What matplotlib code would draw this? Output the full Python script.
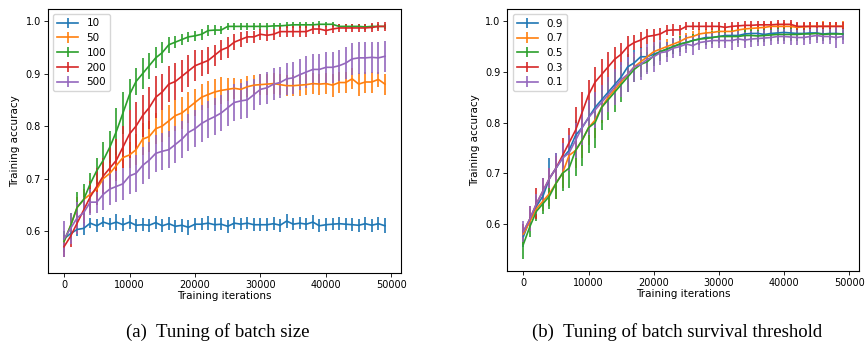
"""
Curvas de precisión de entrenamiento con barras de error:
  (a) ajuste del tamaño de lote
  (b) ajuste del umbral de supervivencia del lote
"""

import matplotlib
matplotlib.use("Agg")
import matplotlib.pyplot as plt


# ── Datos ────────────────────────────────────────────────────

iteraciones = list(range(0, 50000, 1000))

# (a) tamaño de lote
etiquetas_a = ["10", "50", "100", "200", "500"]

acc_10 = [0.585, 0.595, 0.603, 0.605, 0.615, 0.610, 0.617, 0.613, 0.617, 0.612,
          0.617, 0.611, 0.612, 0.611, 0.616, 0.610, 0.614, 0.609, 0.611, 0.607,
          0.613, 0.613, 0.615, 0.612, 0.613, 0.609, 0.615, 0.613, 0.615, 0.612,
          0.612, 0.612, 0.614, 0.611, 0.619, 0.613, 0.615, 0.613, 0.617, 0.610,
          0.612, 0.613, 0.614, 0.613, 0.612, 0.611, 0.614, 0.611, 0.614, 0.610]
err_10 = [0.008, 0.010, 0.013, 0.012, 0.010, 0.012, 0.010, 0.012, 0.015, 0.012,
          0.013, 0.012, 0.012, 0.012, 0.012, 0.012, 0.012, 0.012, 0.012, 0.014,
          0.012, 0.012, 0.014, 0.012, 0.012, 0.012, 0.012, 0.012, 0.012, 0.012,
          0.012, 0.012, 0.012, 0.012, 0.014, 0.012, 0.012, 0.012, 0.014, 0.012,
          0.012, 0.012, 0.012, 0.012, 0.012, 0.012, 0.012, 0.012, 0.012, 0.014]

acc_50 = [0.580, 0.610, 0.645, 0.660, 0.670, 0.680, 0.700, 0.710, 0.725, 0.740,
          0.745, 0.755, 0.775, 0.780, 0.795, 0.800, 0.810, 0.820, 0.825, 0.835,
          0.845, 0.855, 0.860, 0.865, 0.868, 0.870, 0.872, 0.870, 0.875, 0.878,
          0.879, 0.880, 0.881, 0.879, 0.877, 0.877, 0.878, 0.879, 0.881, 0.880,
          0.881, 0.878, 0.883, 0.883, 0.890, 0.880, 0.884, 0.884, 0.889, 0.880]
err_50 = [0.010, 0.015, 0.020, 0.020, 0.020, 0.020, 0.025, 0.025, 0.025, 0.020,
          0.025, 0.030, 0.030, 0.030, 0.030, 0.030, 0.030, 0.030, 0.030, 0.030,
          0.025, 0.025, 0.025, 0.025, 0.025, 0.022, 0.020, 0.020, 0.020, 0.020,
          0.020, 0.020, 0.020, 0.020, 0.020, 0.020, 0.020, 0.020, 0.020, 0.020,
          0.020, 0.022, 0.020, 0.020, 0.020, 0.022, 0.020, 0.020, 0.015, 0.020]

acc_100 = [0.580, 0.610, 0.645, 0.660, 0.690, 0.715, 0.735, 0.760, 0.790, 0.825,
           0.860, 0.885, 0.900, 0.915, 0.930, 0.940, 0.955, 0.960, 0.965, 0.970,
           0.972, 0.975, 0.982, 0.983, 0.983, 0.990, 0.990, 0.990, 0.990, 0.990,
           0.990, 0.990, 0.991, 0.991, 0.992, 0.993, 0.993, 0.993, 0.993, 0.994,
           0.994, 0.994, 0.990, 0.990, 0.990, 0.990, 0.989, 0.990, 0.990, 0.990]
err_100 = [0.020, 0.025, 0.030, 0.030, 0.020, 0.025, 0.035, 0.030, 0.045, 0.040,
           0.030, 0.025, 0.030, 0.025, 0.020, 0.020, 0.015, 0.012, 0.010, 0.010,
           0.010, 0.010, 0.010, 0.010, 0.008, 0.006, 0.006, 0.006, 0.006, 0.006,
           0.006, 0.006, 0.006, 0.006, 0.006, 0.006, 0.006, 0.006, 0.006, 0.006,
           0.005, 0.005, 0.005, 0.005, 0.005, 0.005, 0.005, 0.005, 0.005, 0.005]

acc_200 = [0.570, 0.590, 0.615, 0.640, 0.665, 0.685, 0.705, 0.720, 0.735, 0.760,
           0.785, 0.800, 0.820, 0.835, 0.855, 0.865, 0.880, 0.885, 0.895, 0.905,
           0.915, 0.920, 0.925, 0.935, 0.945, 0.950, 0.960, 0.965, 0.970, 0.970,
           0.975, 0.973, 0.975, 0.980, 0.980, 0.980, 0.980, 0.980, 0.985, 0.985,
           0.982, 0.985, 0.987, 0.987, 0.987, 0.987, 0.987, 0.988, 0.990, 0.990]
err_200 = [0.020, 0.020, 0.020, 0.025, 0.030, 0.035, 0.035, 0.040, 0.040, 0.040,
           0.045, 0.045, 0.040, 0.040, 0.040, 0.035, 0.035, 0.035, 0.030, 0.030,
           0.030, 0.025, 0.025, 0.020, 0.020, 0.020, 0.015, 0.015, 0.012, 0.012,
           0.010, 0.010, 0.010, 0.010, 0.010, 0.010, 0.010, 0.010, 0.010, 0.010,
           0.008, 0.008, 0.008, 0.008, 0.008, 0.008, 0.008, 0.008, 0.008, 0.008]

acc_500 = [0.585, 0.605, 0.625, 0.635, 0.655, 0.655, 0.670, 0.680, 0.685, 0.690,
           0.705, 0.710, 0.725, 0.735, 0.748, 0.752, 0.755, 0.765, 0.775, 0.788,
           0.795, 0.805, 0.812, 0.818, 0.825, 0.835, 0.845, 0.848, 0.850, 0.860,
           0.870, 0.873, 0.880, 0.883, 0.890, 0.892, 0.898, 0.903, 0.908, 0.908,
           0.912, 0.912, 0.915, 0.920, 0.928, 0.930, 0.930, 0.931, 0.930, 0.933]
err_500 = [0.035, 0.030, 0.030, 0.030, 0.025, 0.020, 0.030, 0.030, 0.030, 0.030,
           0.035, 0.035, 0.035, 0.035, 0.035, 0.035, 0.035, 0.035, 0.035, 0.035,
           0.035, 0.035, 0.035, 0.035, 0.035, 0.035, 0.035, 0.035, 0.035, 0.030,
           0.030, 0.030, 0.030, 0.030, 0.030, 0.030, 0.030, 0.030, 0.030, 0.030,
           0.030, 0.030, 0.030, 0.030, 0.030, 0.030, 0.030, 0.030, 0.030, 0.030]

# (b) umbral de supervivencia
etiquetas_b = ["0.9", "0.7", "0.5", "0.3", "0.1"]

acc_09 = [0.575, 0.610, 0.635, 0.655, 0.690, 0.710, 0.730, 0.745, 0.775, 0.790,
          0.810, 0.830, 0.845, 0.860, 0.875, 0.890, 0.910, 0.918, 0.930, 0.930,
          0.935, 0.940, 0.945, 0.950, 0.955, 0.958, 0.962, 0.965, 0.968, 0.968,
          0.970, 0.972, 0.972, 0.972, 0.975, 0.976, 0.976, 0.974, 0.976, 0.977,
          0.978, 0.977, 0.976, 0.976, 0.977, 0.977, 0.975, 0.976, 0.976, 0.975]
err_09 = [0.020, 0.020, 0.020, 0.020, 0.040, 0.030, 0.030, 0.030, 0.030, 0.030,
          0.030, 0.030, 0.030, 0.030, 0.030, 0.030, 0.025, 0.025, 0.020, 0.020,
          0.020, 0.015, 0.015, 0.015, 0.012, 0.012, 0.010, 0.010, 0.010, 0.010,
          0.010, 0.010, 0.010, 0.010, 0.010, 0.010, 0.010, 0.010, 0.010, 0.010,
          0.010, 0.010, 0.010, 0.010, 0.010, 0.010, 0.010, 0.010, 0.010, 0.010]

acc_07 = [0.580, 0.605, 0.630, 0.645, 0.660, 0.680, 0.700, 0.735, 0.745, 0.765,
          0.790, 0.805, 0.830, 0.850, 0.865, 0.880, 0.895, 0.910, 0.920, 0.930,
          0.940, 0.945, 0.950, 0.955, 0.960, 0.967, 0.970, 0.975, 0.977, 0.978,
          0.980, 0.980, 0.980, 0.983, 0.985, 0.986, 0.987, 0.988, 0.990, 0.990,
          0.990, 0.990, 0.988, 0.989, 0.990, 0.990, 0.990, 0.990, 0.990, 0.990]
err_07 = [0.020, 0.020, 0.020, 0.020, 0.025, 0.030, 0.030, 0.030, 0.035, 0.035,
          0.035, 0.035, 0.030, 0.030, 0.030, 0.030, 0.025, 0.025, 0.025, 0.020,
          0.020, 0.015, 0.015, 0.012, 0.012, 0.010, 0.010, 0.010, 0.008, 0.008,
          0.008, 0.008, 0.008, 0.008, 0.008, 0.008, 0.008, 0.008, 0.008, 0.008,
          0.008, 0.008, 0.008, 0.008, 0.008, 0.008, 0.010, 0.008, 0.008, 0.010]

acc_05 = [0.560, 0.595, 0.625, 0.640, 0.655, 0.680, 0.700, 0.710, 0.745, 0.765,
          0.790, 0.800, 0.830, 0.845, 0.860, 0.875, 0.890, 0.905, 0.915, 0.920,
          0.932, 0.940, 0.945, 0.950, 0.955, 0.958, 0.962, 0.965, 0.966, 0.968,
          0.970, 0.970, 0.970, 0.970, 0.972, 0.972, 0.971, 0.972, 0.973, 0.974,
          0.974, 0.974, 0.974, 0.975, 0.975, 0.976, 0.974, 0.975, 0.975, 0.975]
err_05 = [0.030, 0.020, 0.020, 0.020, 0.025, 0.030, 0.035, 0.040, 0.050, 0.050,
          0.050, 0.050, 0.045, 0.040, 0.040, 0.035, 0.030, 0.025, 0.025, 0.020,
          0.020, 0.018, 0.015, 0.015, 0.015, 0.012, 0.012, 0.012, 0.012, 0.012,
          0.012, 0.012, 0.012, 0.012, 0.012, 0.012, 0.012, 0.012, 0.012, 0.012,
          0.012, 0.012, 0.012, 0.012, 0.012, 0.012, 0.012, 0.012, 0.012, 0.012]

acc_03 = [0.585, 0.610, 0.640, 0.665, 0.690, 0.710, 0.735, 0.760, 0.785, 0.820,
          0.855, 0.880, 0.895, 0.910, 0.925, 0.935, 0.950, 0.958, 0.963, 0.970,
          0.972, 0.975, 0.982, 0.983, 0.983, 0.990, 0.990, 0.990, 0.990, 0.990,
          0.990, 0.988, 0.990, 0.991, 0.992, 0.992, 0.993, 0.993, 0.993, 0.994,
          0.994, 0.994, 0.990, 0.990, 0.990, 0.990, 0.990, 0.990, 0.990, 0.990]
err_03 = [0.015, 0.025, 0.030, 0.025, 0.020, 0.025, 0.035, 0.030, 0.045, 0.040,
          0.030, 0.030, 0.030, 0.030, 0.025, 0.022, 0.020, 0.015, 0.015, 0.015,
          0.012, 0.012, 0.010, 0.012, 0.010, 0.008, 0.008, 0.008, 0.008, 0.008,
          0.008, 0.008, 0.008, 0.008, 0.008, 0.008, 0.008, 0.008, 0.008, 0.008,
          0.008, 0.008, 0.008, 0.008, 0.008, 0.008, 0.008, 0.008, 0.008, 0.008]

acc_01 = [0.585, 0.610, 0.640, 0.665, 0.690, 0.710, 0.730, 0.740, 0.765, 0.790,
          0.810, 0.825, 0.840, 0.855, 0.870, 0.885, 0.895, 0.910, 0.915, 0.925,
          0.930, 0.938, 0.940, 0.947, 0.950, 0.955, 0.952, 0.958, 0.960, 0.962,
          0.962, 0.962, 0.962, 0.965, 0.963, 0.965, 0.966, 0.967, 0.968, 0.970,
          0.970, 0.969, 0.968, 0.968, 0.970, 0.972, 0.970, 0.970, 0.968, 0.970]
err_01 = [0.020, 0.025, 0.020, 0.025, 0.020, 0.030, 0.030, 0.035, 0.035, 0.035,
          0.035, 0.035, 0.035, 0.035, 0.035, 0.035, 0.035, 0.030, 0.030, 0.030,
          0.030, 0.025, 0.020, 0.020, 0.018, 0.018, 0.018, 0.015, 0.015, 0.015,
          0.015, 0.015, 0.018, 0.015, 0.015, 0.015, 0.015, 0.015, 0.015, 0.015,
          0.015, 0.015, 0.015, 0.015, 0.015, 0.015, 0.015, 0.015, 0.020, 0.015]

series_a = [(acc_10, err_10), (acc_50, err_50), (acc_100, err_100),
            (acc_200, err_200), (acc_500, err_500)]
series_b = [(acc_09, err_09), (acc_07, err_07), (acc_05, err_05),
            (acc_03, err_03), (acc_01, err_01)]


# ── Gráfico ──────────────────────────────────────────────────

def dibujar_panel(ax, series, etiquetas, ylim):
    for (acc, err), etiqueta in zip(series, etiquetas):
        ax.errorbar(iteraciones, acc, yerr=err, label=etiqueta, linewidth=1.2,
                    elinewidth=1.2)
    ax.set_ylim(*ylim)
    ax.set_xticks([0, 10000, 20000, 30000, 40000, 50000])
    ax.set_yticks([0.6, 0.7, 0.8, 0.9, 1.0])
    ax.set_xlabel("Training iterations", fontsize=7.5, labelpad=1)
    ax.set_ylabel("Training accuracy", fontsize=7.5, labelpad=4)
    ax.tick_params(labelsize=7, length=3, width=0.6, pad=2)
    for lado in ax.spines.values():
        lado.set_linewidth(0.8)
    ax.legend(loc="upper left", fontsize=7.5, handlelength=2.0,
              borderpad=0.4, labelspacing=0.45)


fig = plt.figure(figsize=(8.66, 3.45), dpi=100)
ax_a = fig.add_axes([0.0554, 0.2087, 0.4076, 0.765])
ax_b = fig.add_axes([0.586, 0.2145, 0.4055, 0.759])

dibujar_panel(ax_a, series_a, etiquetas_a, (0.52, 1.023))
dibujar_panel(ax_b, series_b, etiquetas_b, (0.507, 1.024))

fig.text(0.251, 0.022, "(a)  Tuning of batch size", ha="center",
         va="baseline", fontsize=13.5, family="Liberation Serif")
fig.text(0.782, 0.022, "(b)  Tuning of batch survival threshold", ha="center",
         va="baseline", fontsize=13.5, family="Liberation Serif")

fig.savefig("out.png", dpi=100)
plt.close(fig)
